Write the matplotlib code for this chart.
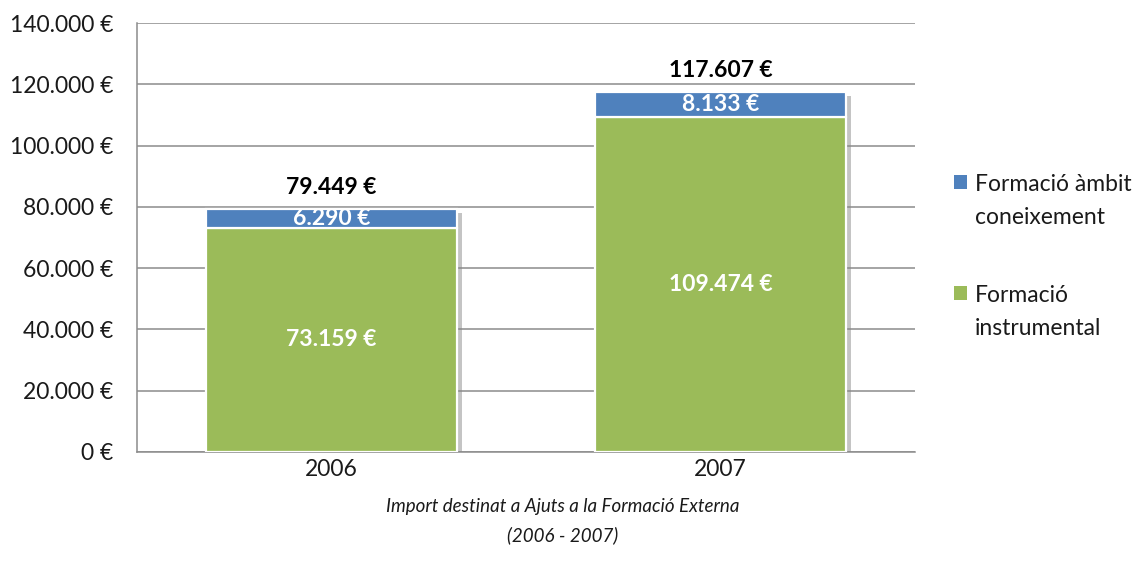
import matplotlib
matplotlib.use("Agg")
import matplotlib.pyplot as plt
import matplotlib.patheffects as pe
from matplotlib.patches import Patch, Rectangle
from matplotlib.legend_handler import HandlerPatch
import numpy as np

years = ["2006", "2007"]
instrumental = [73159, 109474]
ambit = [6290, 8133]
yticks = [0, 20000, 40000, 60000, 80000, 100000, 120000, 140000]
series_names = ["Formació àmbit\nconeixement", "Formació\ninstrumental"]
caption = "Import destinat a Ajuts a la Formació Externa\n(2006 - 2007)"

BLUE = "#4F81BD"
GREEN = "#9BBB59"
GRID = "#8C8C8C"
TXT = "#1a1a1a"
FONT = "Lato"

def eur(v):
    return f"{v:,.0f}".replace(",", ".") + " €"

fig = plt.figure(figsize=(11.45, 5.69), dpi=100)
ax = fig.add_axes([137/1145, 1-452/569, (915-137)/1145, (452-23)/569])

x = np.arange(len(years))
w = 0.643
totals = [a + b for a, b in zip(instrumental, ambit)]

# shadow base
ax.bar(x, totals, w, color="white", edgecolor="none", zorder=2,
       path_effects=[pe.SimplePatchShadow(offset=(4, -3), shadow_rgbFace="#8a8a8a", alpha=0.5), pe.Normal()])
ax.bar(x, instrumental, w, color=GREEN, edgecolor="white", linewidth=1.6, zorder=3)
ax.bar(x, ambit, w, bottom=instrumental, color=BLUE, edgecolor="white", linewidth=1.6, zorder=3)

for xi, g, a, t in zip(x, instrumental, ambit, totals):
    ax.text(xi, g/2, eur(g), ha="center", va="center", color="white",
            fontsize=16.5, fontweight="bold", family=FONT, zorder=4)
    ax.text(xi, g + a/2, eur(a), ha="center", va="center", color="white",
            fontsize=16.5, fontweight="bold", family=FONT, zorder=4)
    ax.annotate(eur(t), (xi, t), xytext=(0, 15), textcoords="offset points",
                ha="center", va="center", color="black",
                fontsize=16.5, fontweight="bold", family=FONT, zorder=4)

ax.set_xlim(-0.5, 1.5)
ax.set_ylim(0, 140000)
ax.set_yticks(yticks)
ax.set_yticklabels([eur(v) for v in yticks], family=FONT, fontsize=16.5, color=TXT)
ax.set_xticks(x)
ax.set_xticklabels(years, family=FONT, fontsize=16.5, color=TXT)
ax.tick_params(axis="y", length=0, pad=17)
ax.tick_params(axis="x", length=0, pad=5)
ax.grid(axis="y", color=GRID, linewidth=1.1, zorder=0)
ax.set_axisbelow(True)
for s in ["top", "right"]:
    ax.spines[s].set_visible(False)
for s in ["left", "bottom"]:
    ax.spines[s].set_color(GRID)
    ax.spines[s].set_linewidth(1.1)

def top_square(legend, orig_handle, xdescent, ydescent, width, height, fontsize):
    return Rectangle((-xdescent, -ydescent + 14), width, height)

handles = [Patch(facecolor=BLUE), Patch(facecolor=GREEN)]
leg = fig.legend(handles, series_names, loc="upper left", bbox_to_anchor=(945/1145, 1-165/569),
                 frameon=False, prop={"family": FONT, "size": 16.5}, handlelength=0.55,
                 handleheight=0.55, handletextpad=0.35, labelspacing=2.5, borderaxespad=0,
                 handler_map={Patch: HandlerPatch(patch_func=top_square)})
for t in leg.get_texts():
    t.set_linespacing(1.7)
    t.set_multialignment("left")
    t.set_color(TXT)

fig.text(563/1145, 1-521/569, caption, ha="center", va="center", style="italic",
         family=FONT, fontsize=13.5, linespacing=1.75, color=TXT)

fig.savefig("out.png", dpi=100, facecolor="white")
